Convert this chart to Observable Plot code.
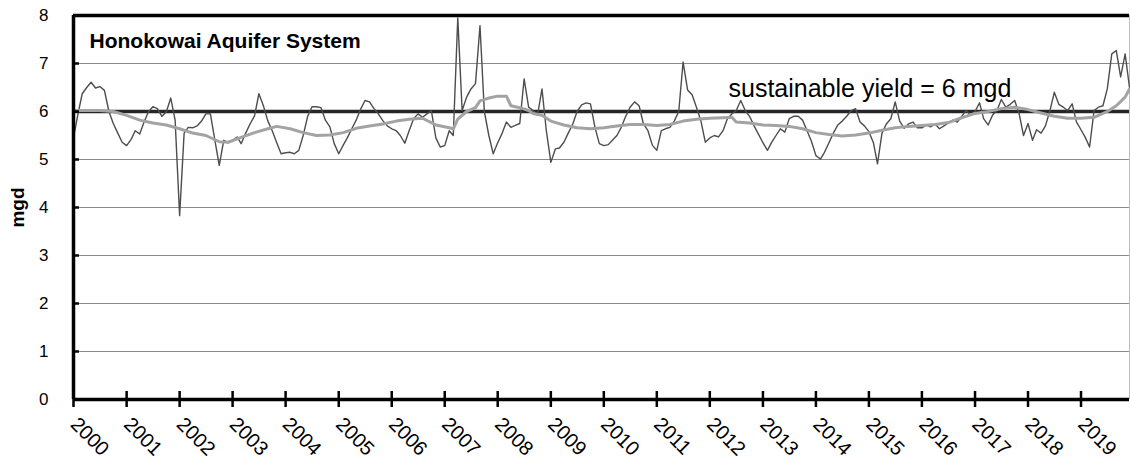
<!DOCTYPE html>
<html><head><meta charset="utf-8">
<script src="https://cdn.jsdelivr.net/npm/d3@7"></script>
<script src="https://cdn.jsdelivr.net/npm/@observablehq/plot@0.6"></script>
<style>html,body{margin:0;padding:0;background:#fff;} svg{display:block;}</style>
</head><body>
<div id="chart"></div>
<script>
// ---- data ----
const chartTitle = "Honokowai Aquifer System";
const yAxisLabel = "mgd";
const yieldLabel = "sustainable yield = 6 mgd";
const sustainableYield = [6];
const startYear = 2000;
const yearLabels = ["2000","2001","2002","2003","2004","2005","2006","2007","2008","2009",
                    "2010","2011","2012","2013","2014","2015","2016","2017","2018","2019"];
const yTickValues = [0, 1, 2, 3, 4, 5, 6, 7, 8];
const gridValues = [1, 2, 3, 4, 5, 6, 7];

// monthly pumpage (mgd), Jan 2000 .. Dec 2019
const monthlyPumpage = [
  5.45, 5.95, 6.37, 6.50, 6.61, 6.49, 6.52, 6.44, 6.00, 5.75, 5.55, 5.36, // 2000
  5.29, 5.42, 5.60, 5.53, 5.78, 6.00, 6.10, 6.06, 5.90, 5.99, 6.28, 5.82, // 2001
  3.83, 5.55, 5.67, 5.66, 5.70, 5.80, 5.95, 5.95, 5.40, 4.88, 5.40, 5.35, // 2002
  5.40, 5.47, 5.33, 5.55, 5.74, 5.91, 6.37, 6.12, 5.80, 5.60, 5.35, 5.12, // 2003
  5.14, 5.15, 5.12, 5.19, 5.50, 5.90, 6.10, 6.10, 6.08, 5.82, 5.68, 5.33, // 2004
  5.12, 5.30, 5.45, 5.64, 5.82, 6.05, 6.23, 6.20, 6.06, 5.95, 5.81, 5.70, // 2005
  5.64, 5.60, 5.50, 5.34, 5.60, 5.85, 5.95, 5.88, 5.95, 6.02, 5.45, 5.26, // 2006
  5.29, 5.60, 5.50, 7.95, 6.02, 6.30, 6.47, 6.58, 7.79, 6.00, 5.50, 5.12, // 2007
  5.35, 5.55, 5.78, 5.67, 5.71, 5.75, 6.68, 6.09, 6.02, 5.92, 6.47, 5.60, // 2008
  4.94, 5.22, 5.24, 5.36, 5.55, 5.74, 6.00, 6.14, 6.18, 6.16, 5.67, 5.33, // 2009
  5.29, 5.31, 5.40, 5.50, 5.67, 5.90, 6.09, 6.20, 6.12, 5.74, 5.60, 5.30, // 2010
  5.19, 5.60, 5.64, 5.67, 5.80, 6.00, 7.03, 6.45, 6.35, 6.09, 5.80, 5.36, // 2011
  5.45, 5.50, 5.47, 5.60, 5.85, 5.95, 6.02, 6.23, 6.02, 5.90, 5.70, 5.53, // 2012
  5.35, 5.19, 5.35, 5.50, 5.64, 5.57, 5.85, 5.90, 5.90, 5.82, 5.60, 5.38, // 2013
  5.08, 5.01, 5.15, 5.35, 5.55, 5.72, 5.80, 5.90, 6.02, 6.06, 5.78, 5.70, // 2014
  5.58, 5.35, 4.91, 5.55, 5.74, 5.85, 6.20, 5.80, 5.65, 5.74, 5.78, 5.66, // 2015
  5.66, 5.72, 5.68, 5.74, 5.64, 5.70, 5.76, 5.82, 5.78, 5.90, 6.02, 5.92, // 2016
  6.00, 6.18, 5.85, 5.72, 5.92, 6.02, 6.25, 6.09, 6.15, 6.23, 5.95, 5.50, // 2017
  5.75, 5.40, 5.62, 5.55, 5.70, 6.02, 6.40, 6.15, 6.09, 6.02, 6.16, 5.78, // 2018
  5.62, 5.45, 5.26, 6.02, 6.09, 6.12, 6.47, 7.20, 7.27, 6.72, 7.20, 6.50  // 2019
];

// 12-month moving average, read at these month offsets from Jan 2000
const avgMonthIndex = [0,3,6,9,12,15,18,21,24,27,30,33,35,38,41,44,46,49,52,55,58,61,64,67,70,73,76,79,82,85,86,87,89,91,92,94,96,98,99,101,103,104,106,108,111,114,117,120,123,126,129,132,135,138,141,144,147,149,150,153,156,159,162,165,168,171,174,177,180,183,186,189,192,195,198,201,204,207,210,213,216,219,222,225,228,231,234,236,238,239];
const avgValues = [6.02,6.02,6.02,6.00,5.92,5.82,5.76,5.72,5.64,5.55,5.50,5.37,5.36,5.46,5.56,5.64,5.69,5.64,5.56,5.50,5.51,5.56,5.65,5.70,5.74,5.80,5.84,5.86,5.72,5.66,5.64,5.84,6.00,6.08,6.22,6.28,6.32,6.32,6.12,6.08,6.02,5.96,5.92,5.80,5.72,5.66,5.64,5.66,5.70,5.73,5.73,5.71,5.73,5.80,5.84,5.86,5.87,5.88,5.78,5.76,5.72,5.71,5.69,5.64,5.56,5.52,5.49,5.51,5.55,5.61,5.66,5.69,5.71,5.73,5.77,5.87,5.96,6.00,6.06,6.09,6.04,5.97,5.90,5.86,5.86,5.88,6.00,6.12,6.30,6.47];

// ---- build tables ----
const start = new Date(Date.UTC(startYear, 0, 1));
const monthly = monthlyPumpage.map((v, i) => ({date: d3.utcMonth.offset(start, i), value: v}));
const average = avgMonthIndex.map((m, i) => ({date: d3.utcMonth.offset(start, m), value: avgValues[i]}));
const yearDates = yearLabels.map(y => new Date(Date.UTC(+y, 0, 1)));
const xDomain = [monthly[0].date, monthly[monthly.length - 1].date];

const W = 1130, H = 466, mL = 73, mR = 1, mT = 15, mB = 67;
const frameW = W - mL - mR, frameH = H - mT - mB;

const chart = Plot.plot({
  width: W, height: H,
  marginLeft: mL, marginRight: mR, marginTop: mT, marginBottom: mB,
  x: {type: "utc", domain: xDomain, axis: null},
  y: {domain: [0, 8], axis: null},
  style: {fontFamily: "'Liberation Sans', Arial, Helvetica, sans-serif", color: "#000", background: "#fff"},
  marks: [
    Plot.ruleY(gridValues, {stroke: "#8a8a8a", strokeWidth: 1}),
    Plot.ruleX([xDomain[1]], {stroke: "#bdbdbd", strokeWidth: 1}),
    Plot.ruleY(sustainableYield, {stroke: "#262626", strokeWidth: 3.5}),
    Plot.line(monthly, {x: "date", y: "value", stroke: "#4d4d4d", strokeWidth: 1.4}),
    Plot.line(average, {x: "date", y: "value", stroke: "#a3a3a3", strokeWidth: 3}),
    // frame / axes
    Plot.ruleY([d3.max(yTickValues)], {stroke: "#000", strokeWidth: 3.5}),
    Plot.ruleY([d3.min(yTickValues)], {stroke: "#000", strokeWidth: 3.5}),
    Plot.ruleX([xDomain[0]], {stroke: "#000", strokeWidth: 3.5}),
    Plot.tickY(yTickValues, {y: d => d, stroke: "#000", strokeWidth: 2.5, insetRight: frameW - 6}),
    Plot.tickX(yearDates, {x: d => d, stroke: "#000", strokeWidth: 2.5, insetTop: frameH - 8, insetBottom: -8}),
    Plot.text(yTickValues, {y: d => d, text: d => String(d), frameAnchor: "left", textAnchor: "end", dx: -25, fontSize: 17}),
    Plot.text(yearDates, {x: d => d, text: yearLabels, frameAnchor: "bottom", rotate: 45, textAnchor: "start", lineAnchor: "bottom", dx: -4, dy: 26, fontSize: 20}),
    Plot.text([yAxisLabel], {text: d => d, frameAnchor: "left", rotate: -90, textAnchor: "middle", lineAnchor: "bottom", dx: -50, fontSize: 19, fontWeight: "bold"}),
    Plot.text([chartTitle], {text: d => d, frameAnchor: "top-left", textAnchor: "start", lineAnchor: "bottom", dx: 16, dy: 32, fontSize: 21, fontWeight: "bold"}),
    Plot.text(sustainableYield, {y: d => d, text: [yieldLabel], frameAnchor: "left", textAnchor: "start", lineAnchor: "bottom", dx: 655, dy: -15, fontSize: 25})
  ]
});
document.getElementById("chart").appendChild(chart);
</script>
</body></html>
